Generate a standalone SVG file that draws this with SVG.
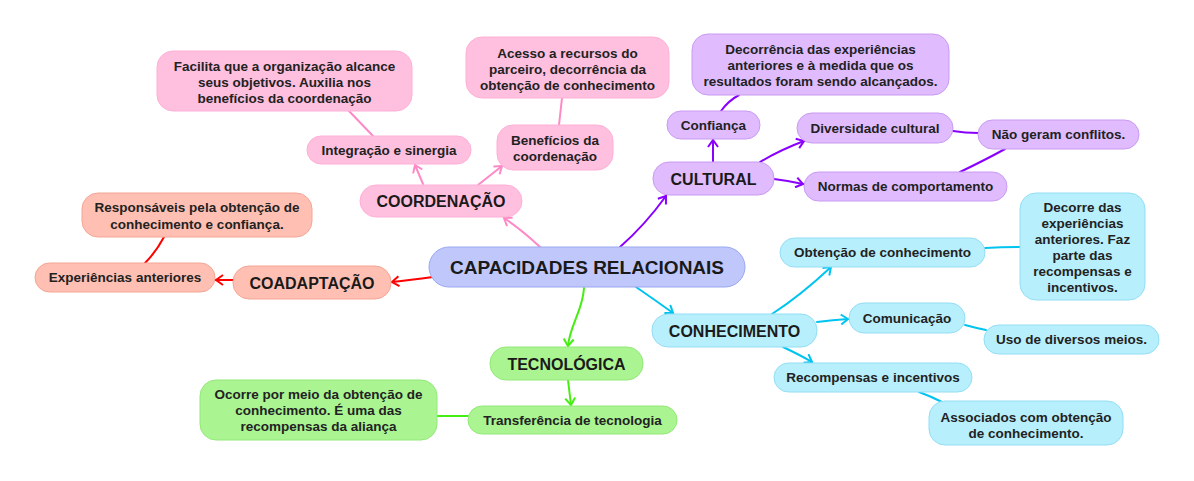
<svg xmlns="http://www.w3.org/2000/svg" width="1194" height="481" viewBox="0 0 1194 481">
<style>
text{font-family:"Liberation Sans",Arial,sans-serif;font-weight:bold;fill:#222;text-anchor:middle;font-size:13.5px}
.big{font-size:16px;fill:#1a1a1a}
.root{font-size:19px;fill:#1a1a1a}
.pk{fill:#ffc0df;stroke:#ffb0d6;stroke-width:1}
.pu{fill:#e0bcff;stroke:#c99af2;stroke-width:1}
.sa{fill:#ffc0b3;stroke:#f4a595;stroke-width:1}
.gr{fill:#aaf592;stroke:#93e878;stroke-width:1}
.cy{fill:#b8effc;stroke:#93def5;stroke-width:1}
.ce{fill:#c0c8fb;stroke:#99a8f0;stroke-width:1}
.c{fill:none;stroke-width:2;stroke-linecap:round}
.cpk{stroke:#ff88c6}
.cpu{stroke:#8a00ff}
.cre{stroke:#ff0000}
.cgr{stroke:#44ee11}
.ccy{stroke:#00c4f0}
</style>
<defs>
<marker id="apk" markerUnits="userSpaceOnUse" markerWidth="12" markerHeight="12" refX="9" refY="6" orient="auto"><path d="M2,1 L9,6 L2,11" fill="none" stroke="#ff88c6" stroke-width="2"/></marker>
<marker id="apu" markerUnits="userSpaceOnUse" markerWidth="12" markerHeight="12" refX="9" refY="6" orient="auto"><path d="M2,1 L9,6 L2,11" fill="none" stroke="#8a00ff" stroke-width="2"/></marker>
<marker id="are" markerUnits="userSpaceOnUse" markerWidth="12" markerHeight="12" refX="9" refY="6" orient="auto"><path d="M2,1 L9,6 L2,11" fill="none" stroke="#ff0000" stroke-width="2"/></marker>
<marker id="agr" markerUnits="userSpaceOnUse" markerWidth="12" markerHeight="12" refX="9" refY="6" orient="auto"><path d="M2,1 L9,6 L2,11" fill="none" stroke="#44ee11" stroke-width="2"/></marker>
<marker id="acy" markerUnits="userSpaceOnUse" markerWidth="12" markerHeight="12" refX="9" refY="6" orient="auto"><path d="M2,1 L9,6 L2,11" fill="none" stroke="#00c4f0" stroke-width="2"/></marker>
</defs>
<rect width="1194" height="481" fill="#ffffff"/>
<g id="connectors">
<path class="c cpk" d="M540,247 Q522,230 504,218" marker-end="url(#apk)"/>
<path class="c cpk" d="M423,184 L415,165" marker-end="url(#apk)"/>
<path class="c cpk" d="M478,185 L502,166" marker-end="url(#apk)"/>
<path class="c cpk" d="M373,136 L349,111"/>
<path class="c cpk" d="M559,125 L562,98"/>
<path class="c cpu" d="M620,247 Q645,225 666,196" marker-end="url(#apu)"/>
<path class="c cpu" d="M713,162 L713,140" marker-end="url(#apu)"/>
<path class="c cpu" d="M760,162 Q780,150 804,141" marker-end="url(#apu)"/>
<path class="c cpu" d="M774,179 Q790,181 803,184" marker-end="url(#apu)"/>
<path class="c cpu" d="M721,111 Q728,101 739,95"/>
<path class="c cpu" d="M953,131 Q965,133 978,133"/>
<path class="c cpu" d="M960,172 Q985,160 1005,149" stroke-width="3"/>
<path class="c cre" d="M433,277 Q410,280 392,282" marker-end="url(#are)"/>
<path class="c cre" d="M233,280 L216,280" marker-end="url(#are)"/>
<path class="c cre" d="M145,263 Q156,252 164,237"/>
<path class="c cgr" d="M584,288 C583,310 570,325 568,346" marker-end="url(#agr)"/>
<path class="c cgr" d="M568,380 L571,405" marker-end="url(#agr)"/>
<path class="c cgr" d="M468,416 L437,416"/>
<path class="c ccy" d="M636,287 Q655,300 673,313" marker-end="url(#acy)"/>
<path class="c ccy" d="M772,314 Q800,296 831,267" marker-end="url(#acy)"/>
<path class="c ccy" d="M817,322 Q833,320 848,319" marker-end="url(#acy)"/>
<path class="c ccy" d="M783,347 Q800,355 812,362" marker-end="url(#acy)"/>
<path class="c ccy" d="M985,248 Q1002,247 1020,247"/>
<path class="c ccy" d="M965,325 Q976,328 986,330"/>
<path class="c ccy" d="M919,392 Q930,396 942,402"/>
</g>
<g id="n-root"><rect class="ce" x="429" y="247" width="316" height="40" rx="20"/><text class="root" x="587" y="274">CAPACIDADES RELACIONAIS</text></g>
<g id="n-coordenacao"><rect class="pk" x="360" y="185" width="162" height="32" rx="16"/><text class="big" x="441" y="206.5">COORDENAÇÃO</text></g>
<g id="n-integracao"><rect class="pk" x="307" y="136" width="164" height="28" rx="14"/><text x="389" y="154.5">Integração e sinergia</text></g>
<g id="n-facilita"><rect class="pk" x="157" y="51" width="255" height="60" rx="16"/><text x="284.5" y="71">Facilita que a organização alcance</text><text x="284.5" y="87">seus objetivos. Auxilia nos</text><text x="284.5" y="103">benefícios da coordenação</text></g>
<g id="n-beneficios"><rect class="pk" x="497" y="125" width="116" height="45" rx="16"/><text x="555" y="145">Benefícios da</text><text x="555" y="161">coordenação</text></g>
<g id="n-acesso"><rect class="pk" x="466" y="37" width="203" height="61" rx="16"/><text x="567.5" y="58">Acesso a recursos do</text><text x="567.5" y="74">parceiro, decorrência da</text><text x="567.5" y="90">obtenção de conhecimento</text></g>
<g id="n-cultural"><rect class="pu" x="653" y="162" width="121" height="33" rx="16"/><text class="big" x="713.5" y="184.5">CULTURAL</text></g>
<g id="n-confianca"><rect class="pu" x="667" y="111" width="93" height="28" rx="14"/><text x="713.5" y="129.5">Confiança</text></g>
<g id="n-decorrencia"><rect class="pu" x="692" y="34" width="257" height="61" rx="16"/><text x="820.5" y="54">Decorrência das experiências</text><text x="820.5" y="70">anteriores e à medida que os</text><text x="820.5" y="86">resultados foram sendo alcançados.</text></g>
<g id="n-diversidade"><rect class="pu" x="797" y="113" width="156" height="30" rx="15"/><text x="875" y="132.5">Diversidade cultural</text></g>
<g id="n-naogeram"><rect class="pu" x="978" y="120" width="161" height="29" rx="14.5"/><text x="1058.5" y="139">Não geram conflitos.</text></g>
<g id="n-normas"><rect class="pu" x="804" y="172" width="203" height="29" rx="14.5"/><text x="905.5" y="191">Normas de comportamento</text></g>
<g id="n-coadaptacao"><rect class="sa" x="233" y="266" width="158" height="33" rx="16"/><text class="big" x="312" y="288.5">COADAPTAÇÃO</text></g>
<g id="n-experiencias"><rect class="sa" x="35" y="263" width="180" height="29" rx="14.5"/><text x="125" y="282">Experiências anteriores</text></g>
<g id="n-responsaveis"><rect class="sa" x="82" y="193" width="230" height="44" rx="16"/><text x="197" y="212">Responsáveis pela obtenção de</text><text x="197" y="229">conhecimento e confiança.</text></g>
<g id="n-tecnologica"><rect class="gr" x="490" y="347" width="153" height="33" rx="16"/><text class="big" x="566.5" y="369.5">TECNOLÓGICA</text></g>
<g id="n-transferencia"><rect class="gr" x="468" y="406" width="209" height="28" rx="14"/><text x="572.5" y="424.5">Transferência de tecnologia</text></g>
<g id="n-ocorre"><rect class="gr" x="200" y="380" width="237" height="60" rx="16"/><text x="318.5" y="399">Ocorre por meio da obtenção de</text><text x="318.5" y="415">conhecimento. É uma das</text><text x="318.5" y="431">recompensas da aliança</text></g>
<g id="n-conhecimento"><rect class="cy" x="652" y="314" width="165" height="33" rx="16"/><text class="big" x="734.5" y="336.5">CONHECIMENTO</text></g>
<g id="n-obtencao"><rect class="cy" x="780" y="238" width="205" height="29" rx="14.5"/><text x="882.5" y="257">Obtenção de conhecimento</text></g>
<g id="n-decorre"><rect class="cy" x="1020" y="193" width="125" height="107" rx="16"/><text x="1082.5" y="212">Decorre das</text><text x="1082.5" y="228">experiências</text><text x="1082.5" y="244">anteriores. Faz</text><text x="1082.5" y="260">parte das</text><text x="1082.5" y="276">recompensas e</text><text x="1082.5" y="292">incentivos.</text></g>
<g id="n-comunicacao"><rect class="cy" x="849" y="303" width="116" height="30" rx="15"/><text x="907" y="322.5">Comunicação</text></g>
<g id="n-uso"><rect class="cy" x="984" y="325" width="175" height="29" rx="14.5"/><text x="1071.5" y="344">Uso de diversos meios.</text></g>
<g id="n-recompensas"><rect class="cy" x="774" y="363" width="198" height="29" rx="14.5"/><text x="873" y="382">Recompensas e incentivos</text></g>
<g id="n-associados"><rect class="cy" x="929" y="401" width="194" height="44" rx="16"/><text x="1026" y="422">Associados com obtenção</text><text x="1026" y="438">de conhecimento.</text></g>
</svg>
